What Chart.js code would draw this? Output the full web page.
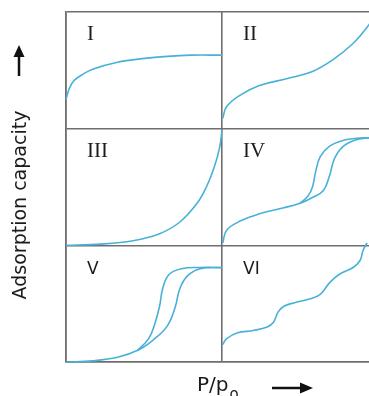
<!DOCTYPE html>
<html>
<head>
<meta charset="utf-8">
<script src="https://cdn.jsdelivr.net/npm/chart.js@4"></script>
<style>
  html, body { margin:0; padding:0; background:#fff; overflow:hidden; width:369px; height:396px; }
  #wrap { position:absolute; left:0; top:0; width:400px; height:396px; }
</style>
</head>
<body>
<div id="wrap"><canvas id="chart" width="400" height="396"></canvas></div>
<script>
// isotherm shapes, local panel coords: [P/p0 fraction, amount fraction]
const typeI    = [[0,0.25],[0.02,0.34],[0.05,0.41],[0.1,0.46],[0.17,0.51],[0.33,0.57],[0.49,0.6],[0.65,0.62],[0.8,0.63],[1,0.63]];
const typeII   = [[0.005,0.09],[0.03,0.19],[0.12,0.29],[0.24,0.37],[0.42,0.43],[0.58,0.49],[0.71,0.59],[0.84,0.73],[0.93,0.87],[1,1]];
const typeIII  = [[0,0],[0.22,0.01],[0.43,0.04],[0.6,0.1],[0.73,0.2],[0.84,0.36],[0.9,0.5],[0.95,0.67],[0.985,0.84],[1,0.99]];
const typeIVads = [[0.005,0.02],[0.03,0.13],[0.12,0.21],[0.24,0.27],[0.39,0.32],[0.5,0.36],[0.58,0.41],[0.65,0.47],[0.69,0.6],[0.72,0.74],[0.77,0.84],[0.85,0.9],[0.93,0.92],[1,0.92]];
const typeIVdes = [[0.5,0.36],[0.55,0.42],[0.58,0.5],[0.6,0.63],[0.63,0.76],[0.69,0.85],[0.78,0.9],[0.88,0.92],[1,0.92]];
const typeVads = [[0,0],[0.17,0.01],[0.33,0.04],[0.46,0.1],[0.56,0.19],[0.65,0.31],[0.7,0.47],[0.73,0.63],[0.78,0.74],[0.86,0.8],[1,0.81]];
const typeVdes = [[0.46,0.1],[0.53,0.2],[0.57,0.33],[0.6,0.48],[0.62,0.63],[0.66,0.75],[0.74,0.8],[0.86,0.81],[1,0.81]];
const typeVI   = [[0.005,0.15],[0.03,0.2],[0.1,0.25],[0.2,0.27],[0.29,0.3],[0.33,0.34],[0.36,0.43],[0.4,0.48],[0.47,0.51],[0.56,0.54],[0.63,0.58],[0.69,0.68],[0.75,0.75],[0.84,0.81],[0.885,0.87],[0.905,0.96],[0.93,1.02]];

const panelLabels = ['I','II','III','IV','V','VI'];
// [curve, column, row]  row 0 = top
const curves = [
  [typeI,0,0],[typeII,1,0],[typeIII,0,1],[typeIVads,1,1],[typeIVdes,1,1],[typeVads,0,2],[typeVdes,0,2],[typeVI,1,2]
];

const lineColor = '#47b1d8';
const gridColor = '#6f6f6f';

const datasets = curves.map(([pts,col,row]) => ({
  data: pts.map(([u,v]) => ({x: col + u, y: (2 - row) + v})),
  borderColor: lineColor,
  borderWidth: 1.6,
  pointRadius: 0,
  fill: false,
  tension: 0.4,
  clip: 4
}));

const decorations = {
  id: 'decorations',
  afterDraw(chart){
    const ctx = chart.ctx;
    const xs = chart.scales.x, ys = chart.scales.y;
    ctx.save();
    ctx.fillStyle = '#1b1b1b';
    ctx.textBaseline = 'alphabetic';
    panelLabels.forEach((lab,i)=>{
      const col = i % 2, row = Math.floor(i/2);
      const left = xs.getPixelForValue(col), top = ys.getPixelForValue(3 - row);
      if(i < 4){
        ctx.font = '21px "Liberation Serif"';
        ctx.fillText(lab, left + 21, top + 28);
      } else {
        ctx.font = '17px "DejaVu Sans"';
        ctx.fillText(lab, left + 21, top + 29);
      }
    });
    // y axis title
    ctx.save();
    ctx.translate(21, 205);
    ctx.rotate(-Math.PI/2);
    ctx.font = '19px "DejaVu Sans"';
    ctx.textAlign = 'center';
    ctx.textBaseline = 'middle';
    ctx.fillText('Adsorption capacity', 0, 0);
    ctx.restore();
    // up arrow
    ctx.strokeStyle = '#111';
    ctx.fillStyle = '#111';
    ctx.lineWidth = 2.5;
    ctx.beginPath(); ctx.moveTo(19, 76); ctx.lineTo(19, 54); ctx.stroke();
    ctx.beginPath(); ctx.moveTo(19, 45); ctx.lineTo(24.5, 57); ctx.lineTo(13.5, 57); ctx.closePath(); ctx.fill();
    // x axis title
    ctx.fillStyle = '#1b1b1b';
    ctx.font = '20px "DejaVu Sans"';
    ctx.textAlign = 'left';
    ctx.fillText('P/p', 197, 391);
    const w = ctx.measureText('P/p').width;
    ctx.font = '15px "DejaVu Sans"';
    ctx.fillText('o', 197 + w + 1, 399);
    // right arrow
    ctx.fillStyle = '#111';
    ctx.beginPath(); ctx.moveTo(272, 388); ctx.lineTo(302, 388); ctx.stroke();
    ctx.beginPath(); ctx.moveTo(313, 388); ctx.lineTo(300, 382.5); ctx.lineTo(300, 393.5); ctx.closePath(); ctx.fill();
    ctx.restore();
  }
};

new Chart(document.getElementById('chart'), {
  type: 'line',
  data: { datasets },
  options: {
    responsive: false,
    animation: false,
    events: [],
    layout: { padding: { left: 66, top: 12, right: 22, bottom: 34 } },
    plugins: { legend: { display: false }, tooltip: { enabled: false } },
    scales: {
      x: {
        type: 'linear', min: 0, max: 2,
        ticks: { display: false, stepSize: 1 },
        grid: { color: gridColor, lineWidth: 1.6, drawTicks: false },
        border: { display: true, color: gridColor, width: 1.6 }
      },
      y: {
        type: 'linear', min: 0, max: 3,
        ticks: { display: false, stepSize: 1 },
        grid: { color: gridColor, lineWidth: 1.6, drawTicks: false },
        border: { display: true, color: gridColor, width: 1.6 }
      }
    }
  },
  plugins: [decorations]
});
</script>
</body>
</html>
